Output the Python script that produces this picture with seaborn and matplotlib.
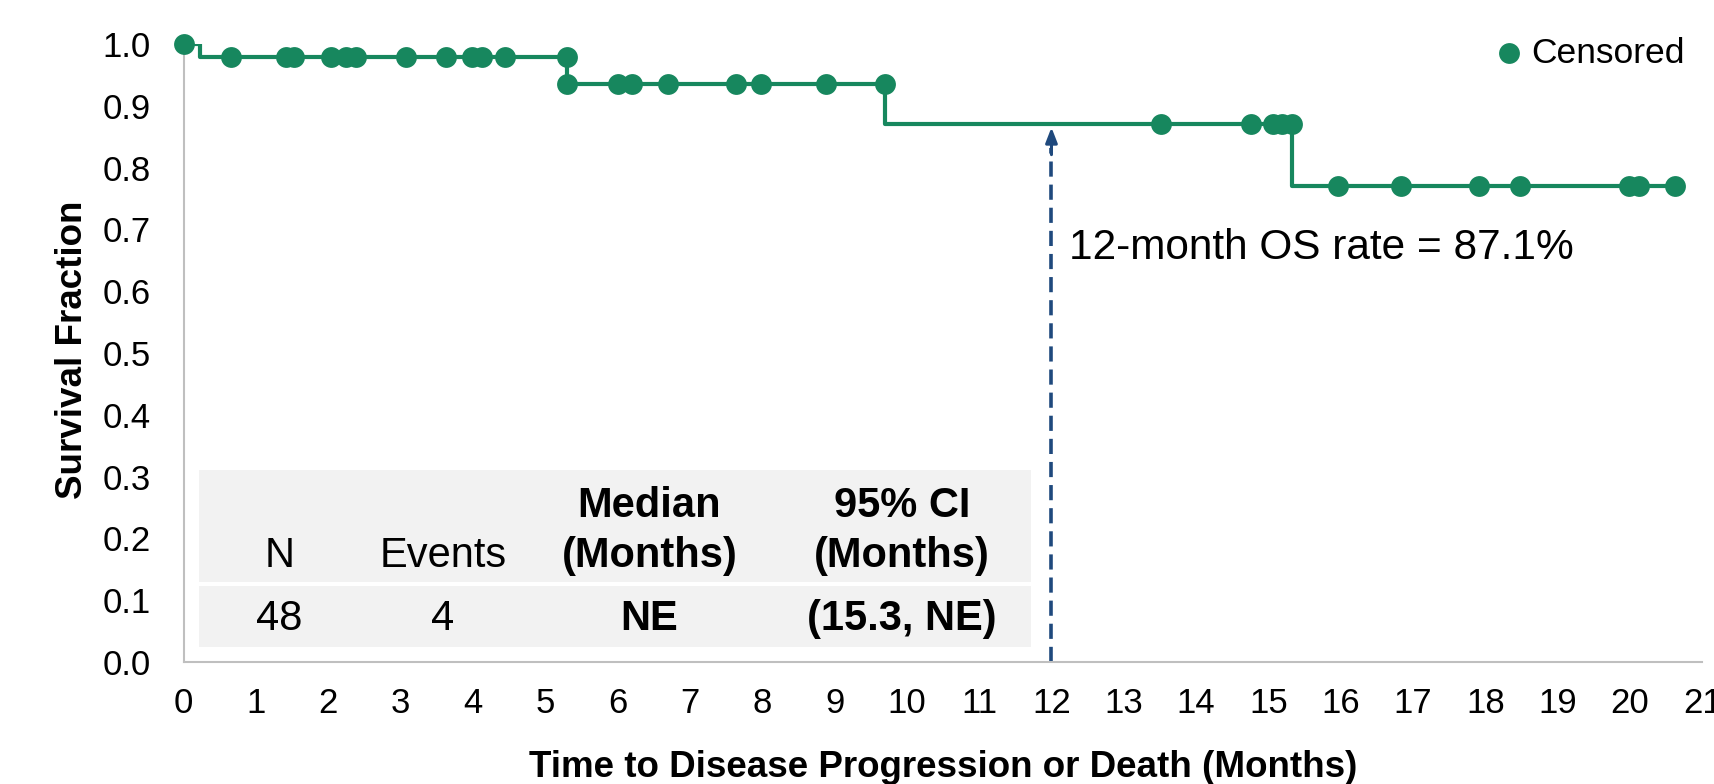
import matplotlib
matplotlib.use("Agg")
import matplotlib.pyplot as plt
from matplotlib.patches import Rectangle
import pandas as pd
import seaborn as sns

# Kaplan-Meier steps (time in months, survival fraction)
step_times = [0.0, 0.22, 5.30, 9.70, 15.32, 20.62]
step_surv = [1.0, 0.979, 0.936, 0.871, 0.770, 0.770]

# censored observations, grouped by the level they sit on
cens_times = [0.0,
              0.66, 1.42, 1.52, 2.04, 2.25, 2.38, 3.08, 3.63, 3.98, 4.13, 4.45, 5.30,
              5.30, 6.01, 6.20, 6.70, 7.64, 7.98, 8.88, 9.70,
              13.51, 14.76, 15.06, 15.19, 15.32,
              15.96, 16.83, 17.91, 18.48, 19.99, 20.12, 20.62]
cens_surv = [1.0] + [0.979] * 12 + [0.936] * 8 + [0.871] * 5 + [0.770] * 7

landmark_month = 12
landmark_rate = 0.871
landmark_label = "12-month OS rate = 87.1%"

table_header = ["N", "Events", "Median\n(Months)", "95% CI\n(Months)"]
table_values = ["48", "4", "NE", "(15.3, NE)"]
header_bold = [False, False, True, True]
value_bold = [False, False, True, True]

x_ticks = list(range(0, 22))
y_ticks = [0.0, 0.1, 0.2, 0.3, 0.4, 0.5, 0.6, 0.7, 0.8, 0.9, 1.0]

GREEN = "#17875E"
BLUE = "#1F497D"
GRAY = "#BFBFBF"

sns.set_style("white")
plt.rcParams["font.family"] = ["Liberation Sans", "DejaVu Sans"]
plt.rcParams["text.color"] = "black"
plt.rcParams["axes.labelcolor"] = "black"

fig = plt.figure(figsize=(17.14, 7.84), dpi=100)
ax = fig.add_axes([183.7 / 1714, 1 - 662 / 784, 1518.6 / 1714, 618 / 784])

steps = pd.DataFrame({"time": step_times, "surv": step_surv})
sns.lineplot(data=steps, x="time", y="surv", drawstyle="steps-post", estimator=None,
             sort=False, color=GREEN, linewidth=3, ax=ax, zorder=3)

cens = pd.DataFrame({"time": cens_times, "surv": cens_surv})
sns.scatterplot(data=cens, x="time", y="surv", color=GREEN, s=225, linewidth=0,
                label="Censored", ax=ax, zorder=4, clip_on=False)

# landmark arrow
ax.plot([landmark_month, landmark_month], [0, landmark_rate - 0.04], color=BLUE,
        linewidth=2.6, linestyle=(0, (4.2, 2.2)), zorder=2, clip_on=False)
ax.annotate("", xy=(landmark_month, landmark_rate - 0.006),
            xytext=(landmark_month, landmark_rate - 0.05),
            arrowprops=dict(arrowstyle="-|>,head_length=0.9,head_width=0.35",
                            color=BLUE, linewidth=2.2, shrinkA=0, shrinkB=0))
ax.text(landmark_month + 0.24, 0.652, landmark_label, fontsize=30.5,
        ha="left", va="baseline", color="black")

# summary table
ax.add_patch(Rectangle((0.0099, 0.130), 0.548, 0.181, transform=ax.transAxes,
                       facecolor="#F2F2F2", edgecolor="none", zorder=1))
ax.add_patch(Rectangle((0.0099, 0.0248), 0.548, 0.0982, transform=ax.transAxes,
                       facecolor="#F2F2F2", edgecolor="none", zorder=1))
col_x = [0.0629, 0.1706, 0.3067, 0.4730]
for cx, head, hb, val, vb in zip(col_x, table_header, header_bold, table_values, value_bold):
    lines = head.split("\n")
    for k, line in enumerate(reversed(lines)):
        ax.text(cx, 0.1537 + k * 0.0815, line, transform=ax.transAxes, fontsize=30,
                ha="center", va="baseline", fontweight="bold" if hb else "normal", zorder=2)
    ax.text(cx, 0.0518, val, transform=ax.transAxes, fontsize=30, ha="center",
            va="baseline", fontweight="bold" if vb else "normal", zorder=2)

ax.set_xlim(0, 21)
ax.set_ylim(0, 1.0)
ax.set_xticks(x_ticks)
ax.set_yticks(y_ticks)
ax.set_yticklabels([f"{v:.1f}" for v in y_ticks])

for side in ["top", "right"]:
    ax.spines[side].set_visible(False)
for side in ["left", "bottom"]:
    ax.spines[side].set_color(GRAY)
    ax.spines[side].set_linewidth(1.5)
ax.tick_params(axis="both", direction="out", length=7.7, width=1.5, color=GRAY,
               labelsize=25, labelcolor="black")
ax.tick_params(axis="y", pad=16)
ax.tick_params(axis="x", pad=10)

ax.set_xlabel("Time to Disease Progression or Death (Months)", fontsize=26.5,
              fontweight="bold")
ax.set_ylabel("Survival Fraction", fontsize=26.5, fontweight="bold")
ax.xaxis.set_label_coords(0.5, -0.142)
ax.yaxis.set_label_coords(-0.062, 0.505)

ax.legend(loc="upper right", bbox_to_anchor=(0.998, 1.035), frameon=False,
          fontsize=25.5, handlelength=1.0, handletextpad=0.15, borderaxespad=0)

fig.savefig("out.png", dpi=100)
